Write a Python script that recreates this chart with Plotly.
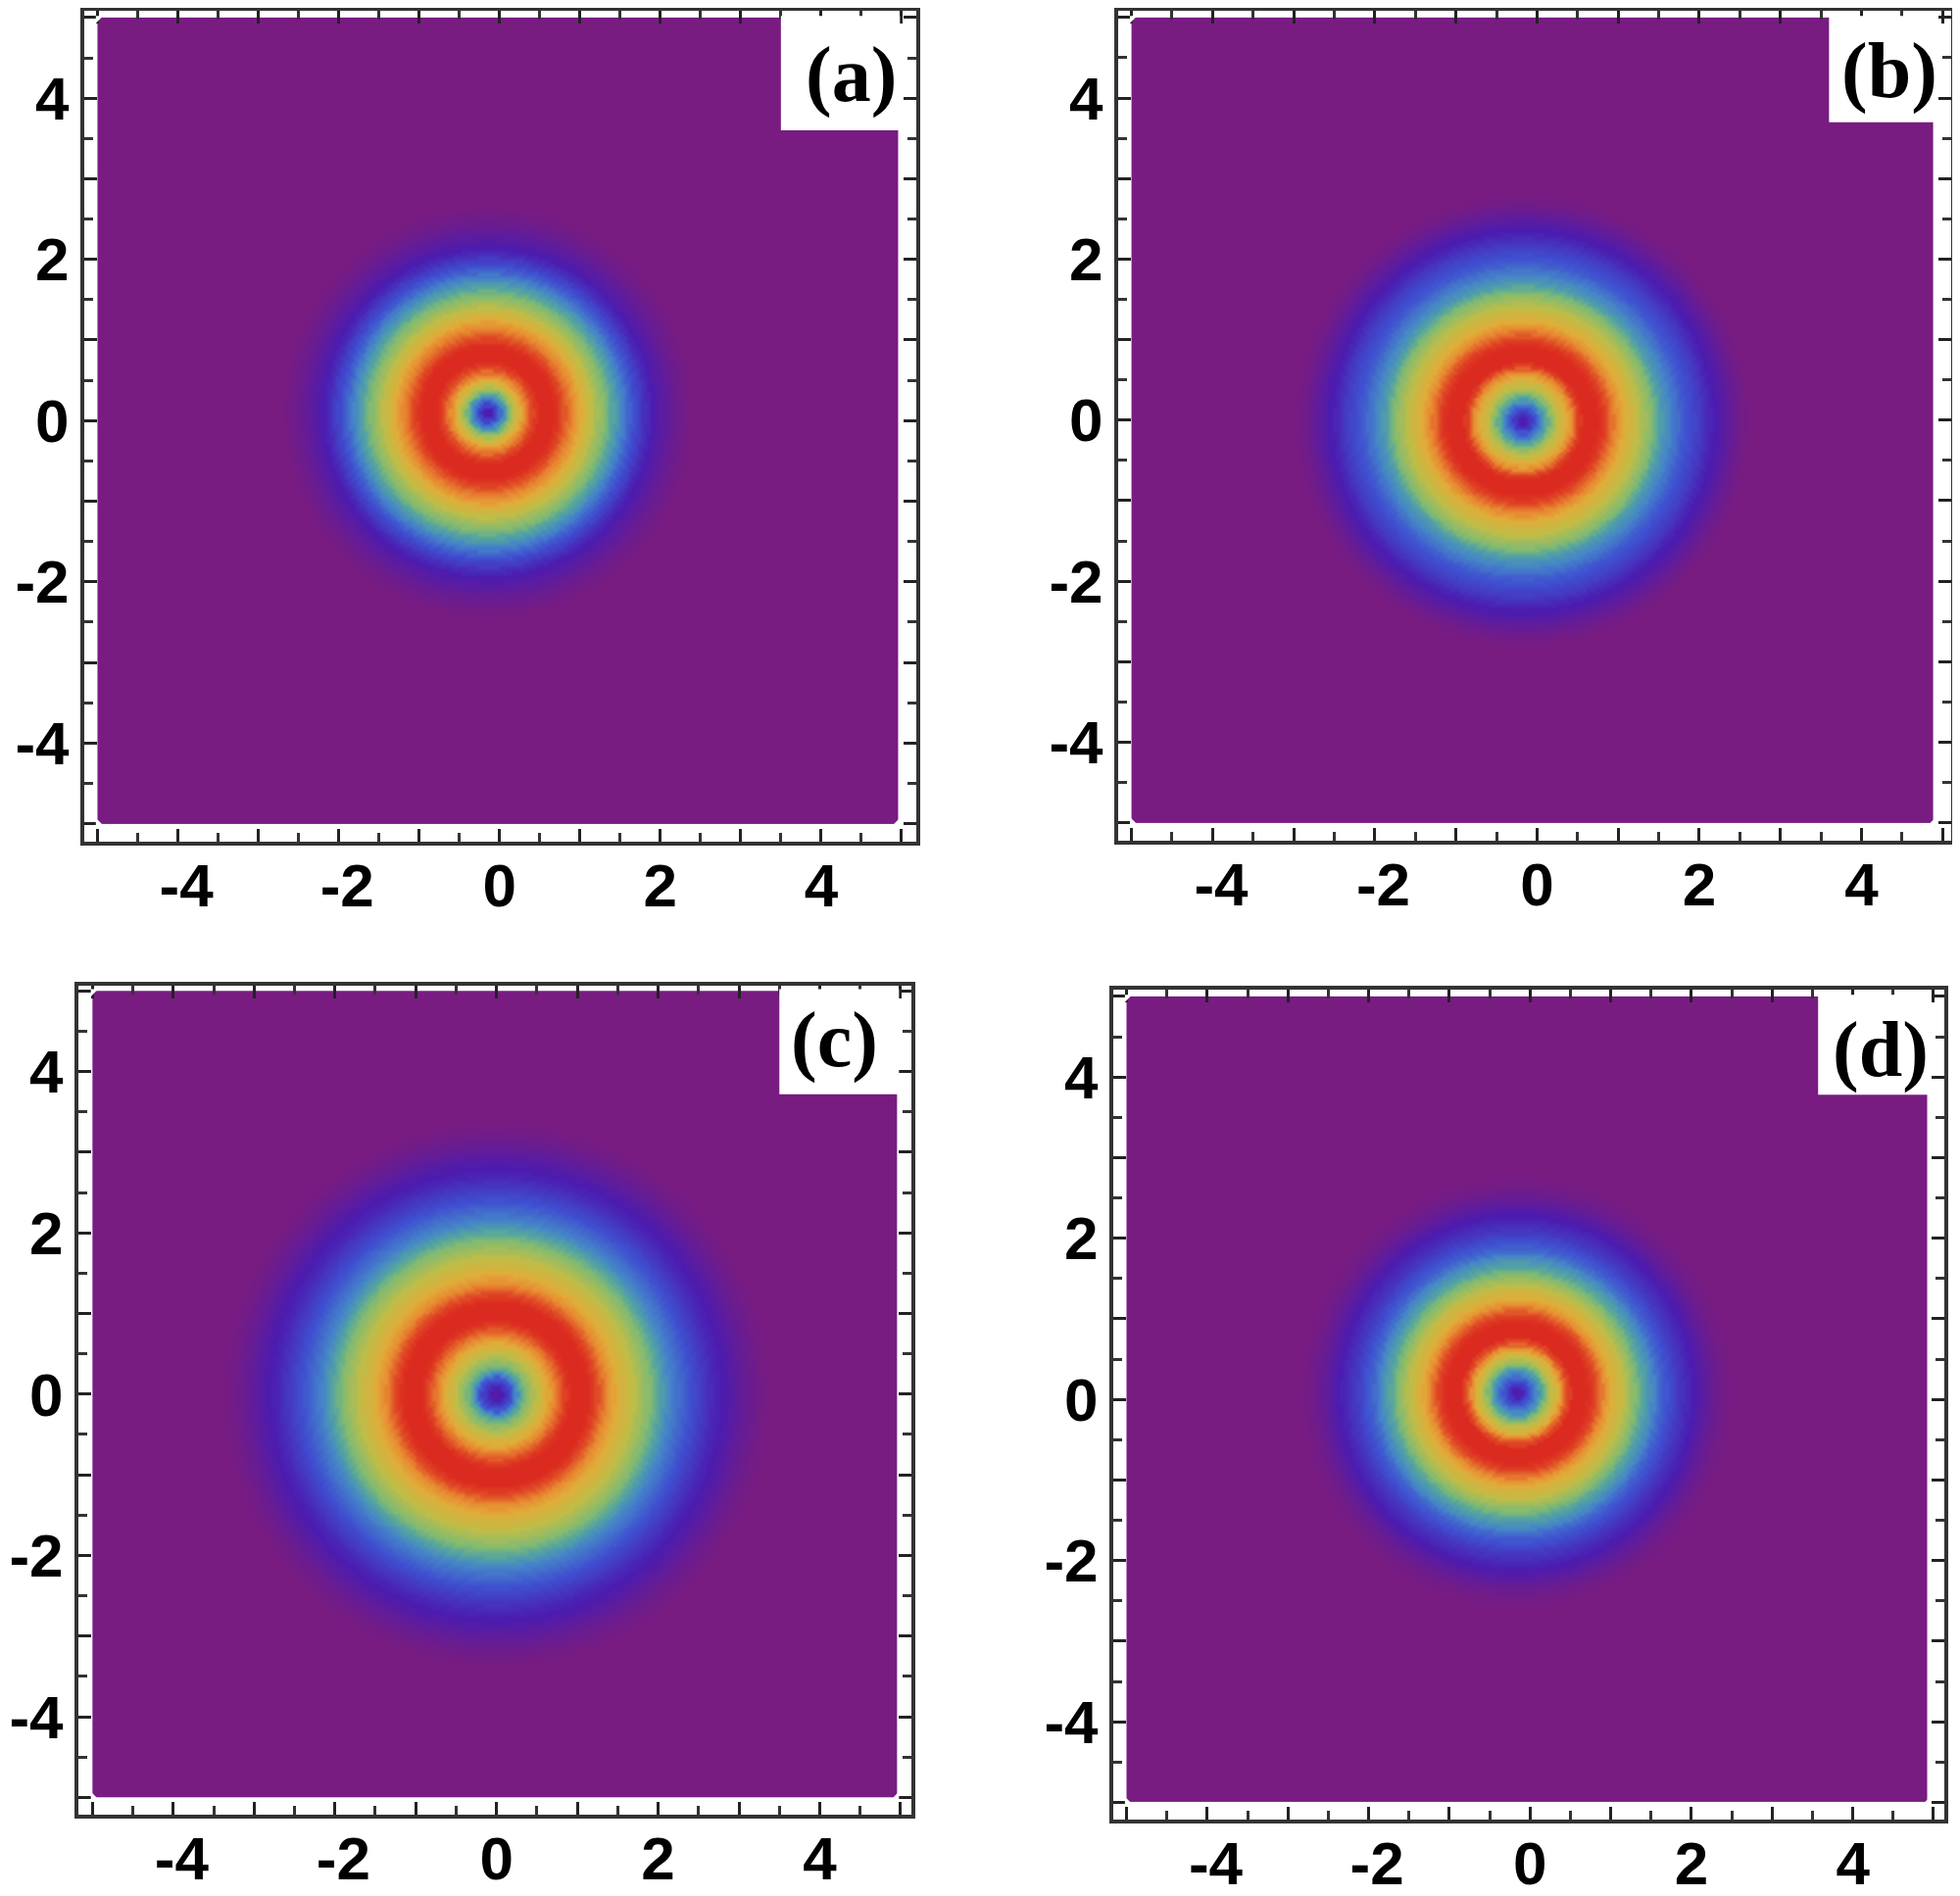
import numpy as np
import plotly.graph_objects as go

W = 2000
H = 1935
PAGE_MARGIN = 8  # the page body pushes the figure in by this much

panel_labels = ["(a)", "(b)", "(c)", "(d)"]
tick_vals = [-5, -4, -3, -2, -1, 0, 1, 2, 3, 4, 5]
y_tick_text = ["", "-4", "", "-2", "", "0", "", "2", "", "4", ""]
# the minus signs hang to the left of the tick in the original
x_tick_text = ["", "\u00a0-4", "", "\u00a0-2", "", "0", "", "2", "", "4", ""]

# radial intensity, one value every 0.05 from the ring centre
radial_step = 0.05
profile_a = [.10, .15, .22, .30, .38, .47, .55, .63, .70, .77, .83, .90, .96, 1, 1, 1, 1, .98, .93, .88,
             .83, .79, .75, .71, .67, .63, .60, .56, .53, .50, .47, .43, .40, .36, .33, .29, .26, .23,
             .21, .18, .16, .14, .12, .10, .09, .07, .05, .04, .03, .02, .01, 0]
profile_b = [.12, .15, .20, .26, .32, .39, .45, .51, .57, .62, .67, .72, .78, .86, .95, 1, 1, 1, 1, .98,
             .94, .88, .83, .78, .74, .70, .67, .64, .61, .58, .55, .52, .49, .45, .41, .38, .36, .33,
             .31, .28, .26, .245, .23, .215, .20, .18, .16, .145, .13, .11, .09, .07, .05, .035, .02,
             .01, 0]
profile_c = [.10, .13, .17, .21, .26, .35, .43, .48, .52, .56, .60, .64, .68, .72, .77, .82, .87, .93,
             .98, 1, 1, 1, 1, .99, .95, .90, .85, .80, .76, .73, .70, .67, .65, .62, .60, .57, .55, .52,
             .50, .47, .44, .41, .38, .35, .33, .31, .29, .27, .25, .235, .22, .205, .19, .175, .16,
             .15, .14, .125, .11, .095, .08, .065, .05, .04, .03, .02, .01, .005, 0]
profile_d = [.10, .15, .20, .25, .30, .36, .42, .49, .56, .62, .68, .76, .85, .93, 1, 1, 1, 1, .98, .94,
             .88, .82, .76, .72, .68, .65, .62, .58, .55, .51, .48, .44, .41, .38, .35, .31, .28, .26,
             .24, .22, .20, .185, .17, .155, .14, .12, .10, .08, .06, .045, .03, .02, .01, .005, 0]
profiles = [profile_a, profile_b, profile_c, profile_d]

center_x = [-0.15, -0.18, -0.01, -0.17]
center_y = [0.10, -0.01, 0.0, 0.085]

# where the density plot stops on the right in each panel
right_edge = [4.96, 4.9, 4.96, 4.94]

# white box behind each panel letter starts here
notch_x = [3.5, 3.6, 3.5, 3.57]
notch_y = [3.6, 3.7, 3.72, 3.78]
label_x = [4.37, 4.34, 4.18, 4.34]
label_y = [4.29, 4.33, 4.39, 4.34]

# plot area in pixels: left, right, top, bottom (the frame line sits just outside it)
frames = [(86, 935, 11, 859), (1141, 1991, 11, 858), (80, 930, 1006, 1852), (1136, 1984, 1010, 1857)]
x_ranges = [(-5.164, 5.184), (-5.164, 5.106), (-5.174, 5.134), (-5.164, 5.134)]
y_ranges = [(-5.224, 5.084), (-5.224, 5.084), (-5.214, 5.064), (-5.214, 5.084)]

rainbow = [[0, "#781c82"], [.14, "#4c1cb0"], [.25, "#3f50d0"], [.35, "#4585c8"], [.43, "#55a5a0"],
           [.5, "#85bb70"], [.6, "#c0bd48"], [.7, "#e0ad3a"], [.78, "#e88c32"], [.9, "#e04b26"],
           [1, "#db2a20"]]

grid = np.arange(-4.98, 5.0, 0.04)


def ring_field(profile, cx, cy, xs):
    table = np.array(profile)
    xx, yy = np.meshgrid(xs, grid)
    idx = np.rint(np.hypot(xx - cx, yy - cy) / radial_step).astype(int)
    return table[np.minimum(idx, len(table) - 1)]


fig = go.Figure()
shapes = []
annotations = []

for i in range(4):
    left, right, top, bottom = [v - PAGE_MARGIN for v in frames[i]]
    suffix = "" if i == 0 else str(i + 1)
    xname = "x" + suffix
    yname = "y" + suffix
    xs = grid[grid < right_edge[i]]
    edge = right_edge[i]

    fig.add_trace(go.Heatmap(x=xs, y=grid, z=ring_field(profiles[i], center_x[i], center_y[i], xs),
                             colorscale=rainbow, zmin=0, zmax=1, zsmooth="best", showscale=False,
                             xaxis=xname, yaxis=yname, hoverinfo="skip"))

    axis_style = dict(tickmode="array", tickvals=tick_vals,
                      ticks="inside", ticklen=13, tickwidth=3, tickcolor="#222",
                      minor=dict(tickmode="array", tickvals=[v + 0.5 for v in tick_vals[:-1]],
                                 ticks="inside", ticklen=9, tickwidth=3, tickcolor="#333"),
                      showline=True, linecolor="#333", linewidth=4, mirror="ticks",
                      showgrid=False, zeroline=False, automargin=False,
                      tickfont=dict(family="Liberation Sans", size=62, color="black", weight="bold"))

    fig.layout["xaxis" + suffix] = dict(axis_style, domain=[left / W, right / W], ticktext=x_tick_text,
                                        range=list(x_ranges[i]), anchor=yname, ticklabelstandoff=-12)
    fig.layout["yaxis" + suffix] = dict(axis_style, domain=[1 - bottom / H, 1 - top / H], ticktext=y_tick_text,
                                        range=list(y_ranges[i]), anchor=xname, ticklabelstandoff=-1)

    # label box and the clipped corners of the density plot
    shapes.append(dict(type="rect", xref=xname, yref=yname, x0=notch_x[i], x1=edge + 0.02, y0=notch_y[i], y1=5.02,
                       fillcolor="white", line_width=0, layer="above"))
    for cx, cy, dx, dy in [(-5.02, 5.02, 0.09, -0.09), (-5.02, -5.02, 0.09, 0.09), (edge + 0.02, -5.02, -0.09, 0.09)]:
        shapes.append(dict(type="path", xref=xname, yref=yname,
                           path=f"M {cx} {cy} L {cx + dx} {cy} L {cx} {cy + dy} Z",
                           fillcolor="white", line_width=0, layer="above"))
    annotations.append(dict(text=panel_labels[i], xref=xname, yref=yname, x=label_x[i], y=label_y[i],
                            showarrow=False, font=dict(family="Liberation Serif", size=80, color="black", weight="bold")))

fig.update_layout(width=W, height=H, autosize=False, margin=dict(l=0, r=0, t=0, b=0),
                  paper_bgcolor="white", plot_bgcolor="white", showlegend=False,
                  shapes=shapes, annotations=annotations)

fig.write_html("out.html")
